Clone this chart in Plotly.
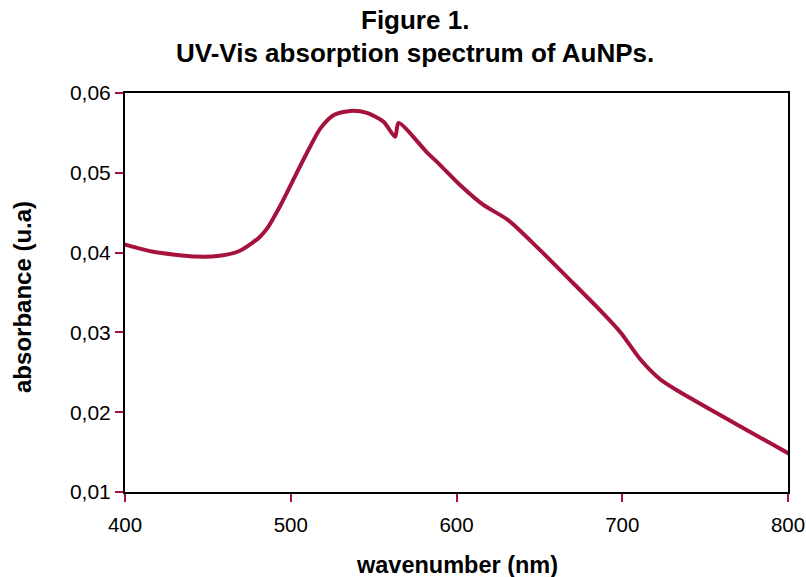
import plotly.graph_objects as go

wavelength = [396, 400, 417, 443, 457, 469, 477, 481, 486, 490, 494, 501, 510, 518, 526,
              536, 546, 556, 563, 565, 582, 590, 602, 616, 631, 650, 670, 687,
              699, 711, 723, 735, 751, 771, 801]
absorbance = [0.04125, 0.0410, 0.0401, 0.0395, 0.0396, 0.0402, 0.04125, 0.0419, 0.0431, 0.0445, 0.0460,
              0.0489, 0.0526, 0.0556, 0.05725, 0.05775, 0.0575, 0.0564, 0.0545, 0.05625,
              0.0526, 0.0510, 0.0485, 0.0460, 0.0441, 0.0404, 0.03625, 0.0327,
              0.0300, 0.0266, 0.0241, 0.0225, 0.0206, 0.01825, 0.01475]

x_ticks = [400, 500, 600, 700, 800]
y_ticks = [0.01, 0.02, 0.03, 0.04, 0.05, 0.06]

title_lines = ["Figure 1.", "UV-Vis absorption spectrum of AuNPs."]
x_title = "wavenumber (nm)"
y_title = "absorbance (u.a)"

red = "#A5123B"
font = "Liberation Sans, Arial, sans-serif"

fig = go.Figure()
fig.add_trace(go.Scatter(
    x=wavelength, y=absorbance, mode="lines",
    line=dict(color=red, width=4, shape="spline", smoothing=0.7),
    showlegend=False, hoverinfo="x+y"))

fig.update_layout(
    width=806, height=577,
    margin=dict(l=125, r=18, t=93, b=85, autoexpand=False),
    paper_bgcolor="white", plot_bgcolor="white",
    separators=", ",
    font=dict(family=font, color="black", size=21),
    annotations=[
        dict(text="<b>" + title_lines[0] + "</b>", xref="paper", yref="paper",
             x=0.4374, y=1.1830, xanchor="center", yanchor="middle",
             showarrow=False, font=dict(size=26)),
        dict(text="<b>" + title_lines[1] + "</b>", xref="paper", yref="paper",
             x=0.4374, y=1.1003, xanchor="center", yanchor="middle",
             showarrow=False, font=dict(size=26)),
        dict(text="<b>" + x_title + "</b>", xref="paper", yref="paper",
             x=0.5, y=-0.1830, xanchor="center", yanchor="middle",
             showarrow=False, font=dict(size=23.5)),
        dict(text="<b>" + y_title + "</b>", xref="paper", yref="paper",
             x=-0.1554, y=0.4887, xanchor="center", yanchor="middle", textangle=-90,
             showarrow=False, font=dict(size=24)),
    ],
)
fig.update_xaxes(
    range=[400, 800], tickvals=x_ticks, ticks="outside", ticklen=8, tickwidth=2,
    tickcolor=red, showline=True, linecolor="black", linewidth=2, mirror=True,
    showgrid=False, zeroline=False, ticklabelstandoff=5, automargin=False,
    ticklabeloverflow="allow", tickfont=dict(size=20.5))
fig.update_yaxes(
    range=[0.01, 0.06], tickvals=y_ticks, tickformat=".2f", ticks="outside", ticklen=8,
    tickwidth=2, tickcolor=red, showline=True, linecolor="black", linewidth=2, mirror=True,
    showgrid=False, zeroline=False, automargin=False,
    ticklabeloverflow="allow", tickfont=dict(size=21))

fig.write_html(
    "out.html",
    config={"displayModeBar": False},
    post_script="document.body.style.margin='0';document.body.style.overflow='hidden';"
                "document.documentElement.style.overflow='hidden';")
